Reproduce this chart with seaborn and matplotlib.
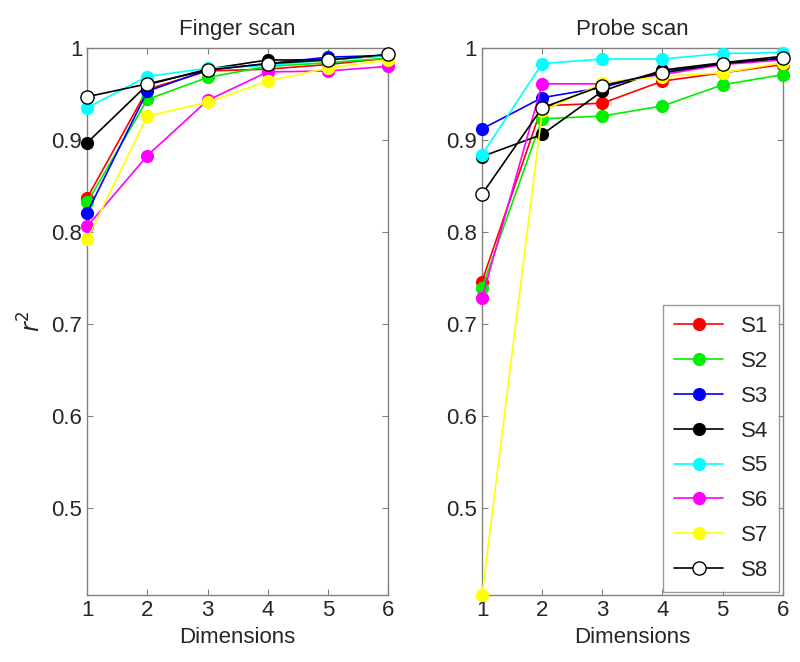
import seaborn as sns
import matplotlib.pyplot as plt
import pandas as pd

dims = [1, 2, 3, 4, 5, 6]
subjects = ['S1', 'S2', 'S3', 'S4', 'S5', 'S6', 'S7', 'S8']
colors = ['#ff0000', '#00ee00', '#0000ff', '#000000', '#00ffff', '#ff00ff', '#ffff00', '#000000']

# r^2 values
finger = {
    'S1': [0.837, 0.955, 0.975, 0.977, 0.982, 0.989],
    'S2': [0.832, 0.944, 0.968, 0.980, 0.984, 0.989],
    'S3': [0.821, 0.953, 0.976, 0.983, 0.990, 0.992],
    'S4': [0.897, 0.960, 0.977, 0.987, 0.987, 0.992],
    'S5': [0.935, 0.969, 0.978, 0.981, 0.987, 0.992],
    'S6': [0.806, 0.883, 0.943, 0.974, 0.975, 0.980],
    'S7': [0.792, 0.926, 0.941, 0.964, 0.978, 0.987],
    'S8': [0.947, 0.961, 0.976, 0.983, 0.987, 0.993],
}
probe = {
    'S1': [0.746, 0.937, 0.940, 0.964, 0.973, 0.982],
    'S2': [0.739, 0.923, 0.926, 0.937, 0.960, 0.971],
    'S3': [0.912, 0.946, 0.957, 0.975, 0.983, 0.989],
    'S4': [0.882, 0.906, 0.953, 0.976, 0.984, 0.991],
    'S5': [0.884, 0.983, 0.988, 0.988, 0.994, 0.995],
    'S6': [0.728, 0.961, 0.961, 0.971, 0.982, 0.987],
    'S7': [0.405, 0.931, 0.962, 0.969, 0.973, 0.984],
    'S8': [0.841, 0.935, 0.959, 0.973, 0.983, 0.989],
}

sns.set_style("ticks")
plt.rcParams['font.family'] = ['Liberation Sans', 'DejaVu Sans']

fig = plt.figure(figsize=(8, 6.62), dpi=100)
ax1 = fig.add_axes([0.109, 0.101, 0.376, 0.8265])
ax2 = fig.add_axes([0.6025, 0.101, 0.376, 0.8265])

for ax, data, title in [(ax1, finger, 'Finger scan'), (ax2, probe, 'Probe scan')]:
    for s, c in zip(subjects, colors):
        df = pd.DataFrame({'dim': dims, 'r2': data[s]})
        mfc = 'white' if s == 'S8' else c
        sns.lineplot(data=df, x='dim', y='r2', ax=ax, color=c, marker='o',
                     markersize=9.5, markerfacecolor=mfc, markeredgecolor=c,
                     markeredgewidth=1.0 if s == 'S8' else 0, linewidth=1.2,
                     label=s, legend=False, clip_on=False, zorder=3)
    ax.set_xlim(1, 6)
    ax.set_ylim(0.405, 1)
    ax.set_xticks(dims)
    ax.set_yticks([0.5, 0.6, 0.7, 0.8, 0.9, 1.0])
    ax.set_yticklabels(['0.5', '0.6', '0.7', '0.8', '0.9', '1'])
    ax.set_title(title, fontsize=16, pad=9)
    ax.set_xlabel('Dimensions', fontsize=16)
    ax.set_ylabel('')
    ax.tick_params(direction='in', labelsize=16, length=4, color='#808080',
                   top=True, right=True)
    for sp in ax.spines.values():
        sp.set_visible(True)
        sp.set_color('#808080')
        sp.set_linewidth(1.0)

ax1.set_ylabel('$r^2$', fontsize=17)
leg = ax2.legend(loc='lower right', fontsize=16, frameon=True, fancybox=False,
                 edgecolor='#808080', handlelength=2.2, borderpad=0.5,
                 labelspacing=0.62, borderaxespad=0.15)
leg.set_zorder(5)

fig.savefig('out.png', dpi=100)
